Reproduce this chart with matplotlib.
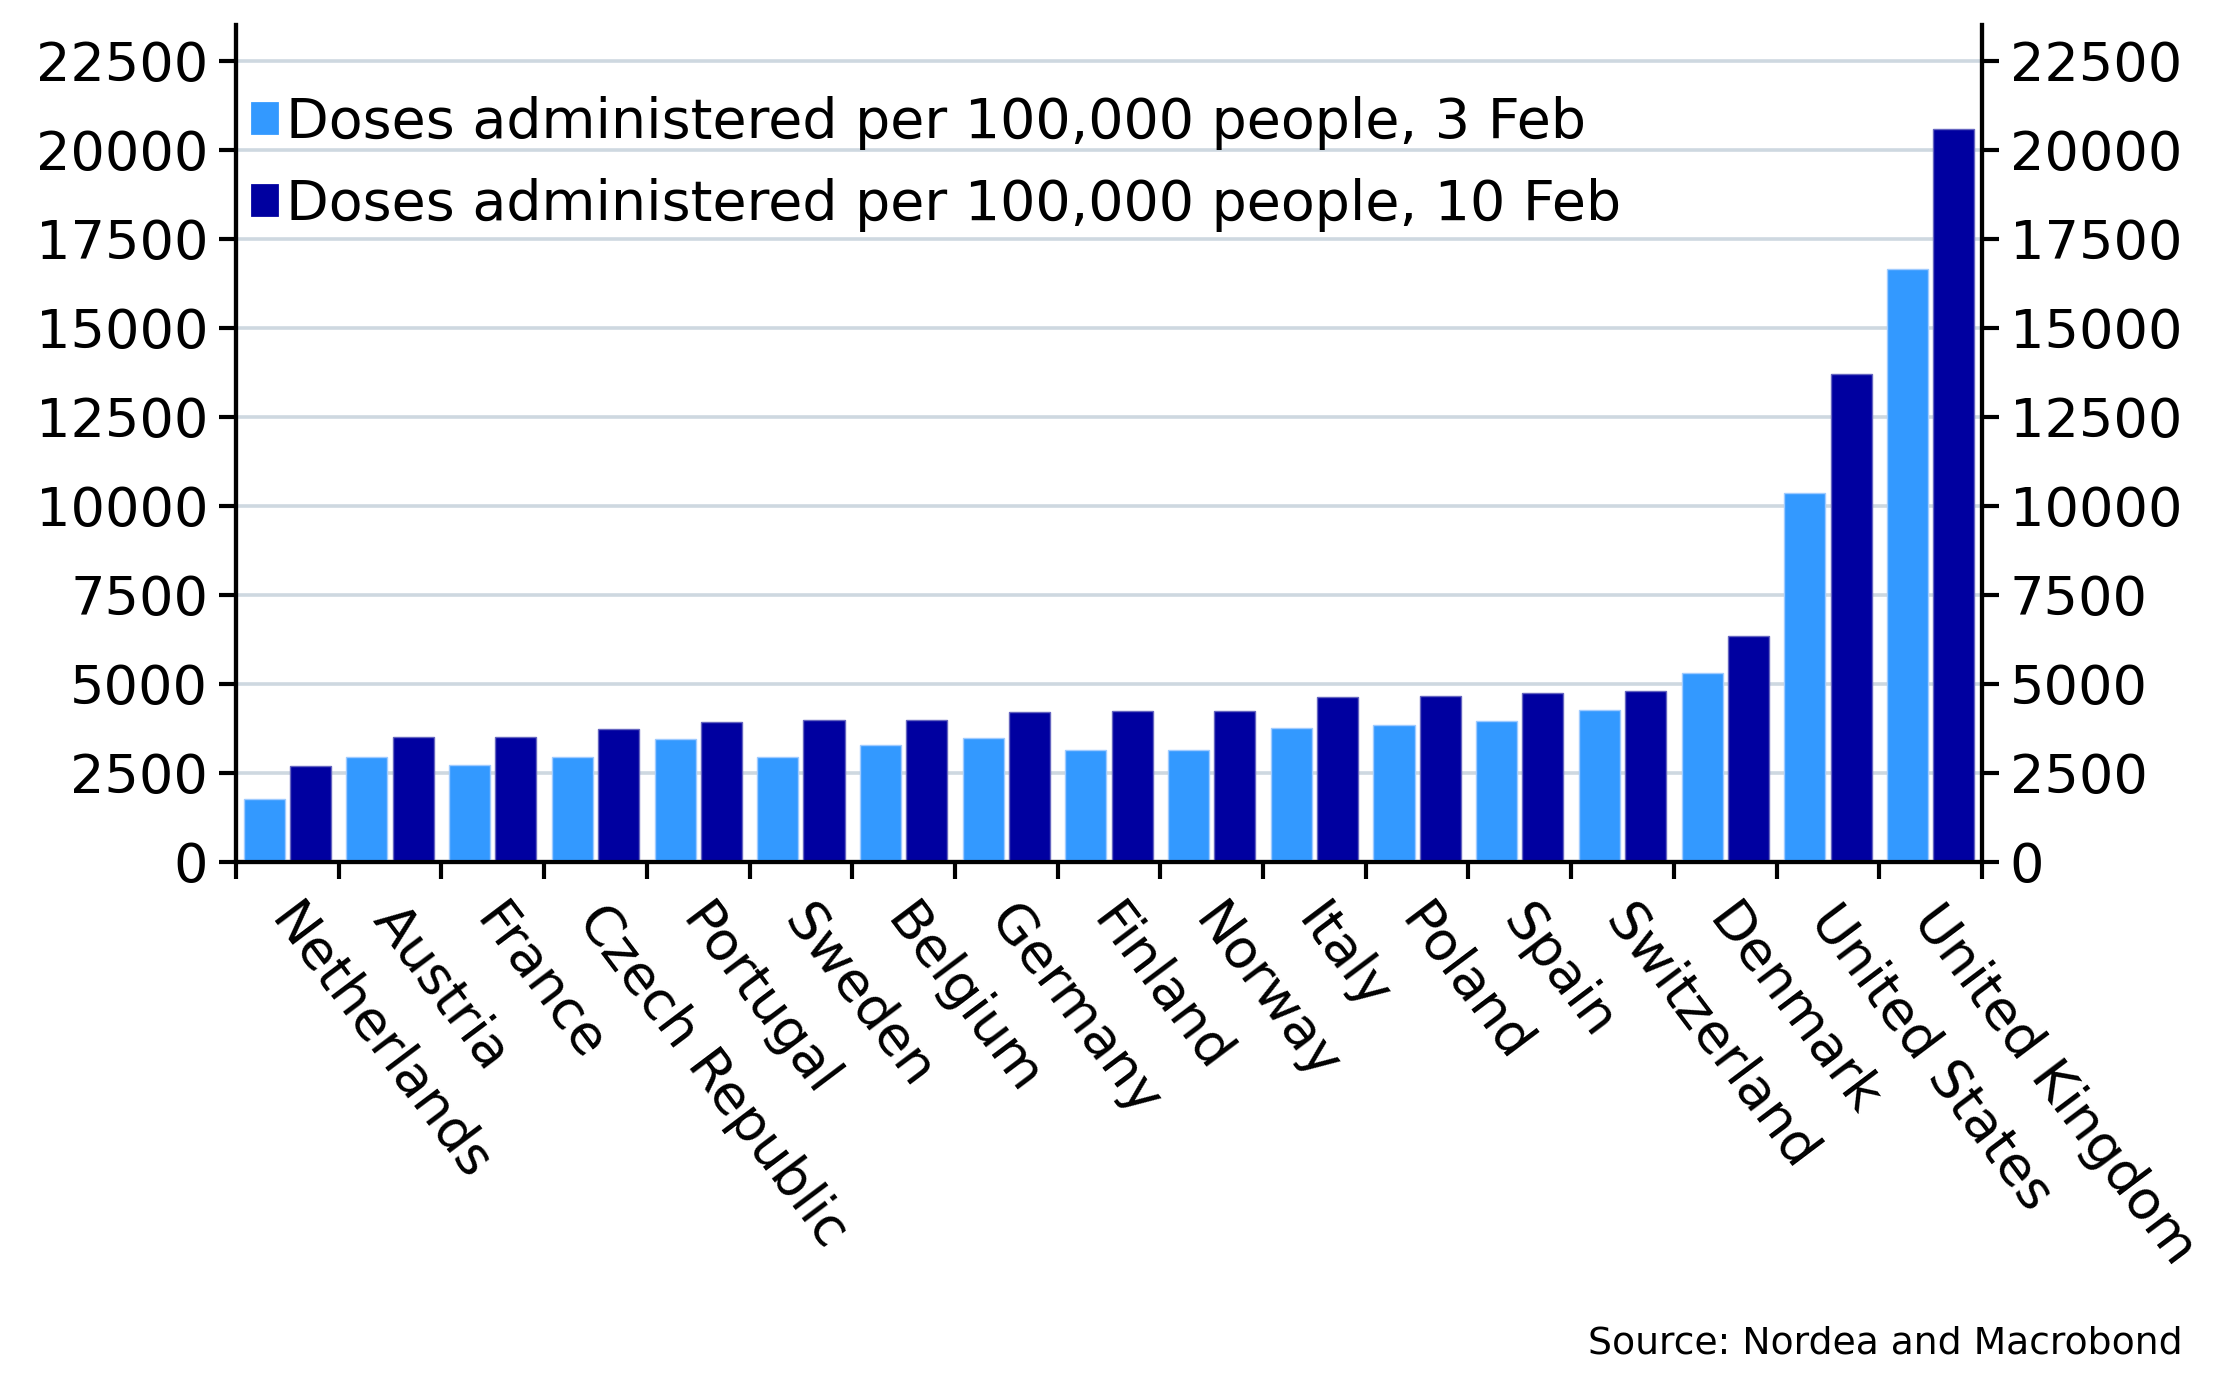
import numpy as np
import matplotlib
matplotlib.use("Agg")
import matplotlib.pyplot as plt
import matplotlib.transforms as mtransforms
from matplotlib.patches import Patch

countries = ["Netherlands", "Austria", "France", "Czech Republic", "Portugal", "Sweden",
             "Belgium", "Germany", "Finland", "Norway", "Italy", "Poland", "Spain",
             "Switzerland", "Denmark", "United States", "United Kingdom"]
feb3 = [1780, 2950, 2730, 2950, 3440, 2950, 3290, 3490, 3140, 3140, 3770, 3850, 3960,
        4280, 5320, 10360, 16660]
feb10 = [2700, 3500, 3520, 3740, 3920, 3990, 4000, 4220, 4250, 4250, 4620, 4670, 4750,
         4810, 6360, 13700, 20590]
labels = ["Doses administered per 100,000 people, 3 Feb",
          "Doses administered per 100,000 people, 10 Feb"]
yticks = np.arange(0, 22501, 2500)

light = "#3399FF"
dark = "#0000A0"
grid_col = "#CED8E0"

plt.rcParams['font.family'] = ['DejaVu Sans']

fig = plt.figure(figsize=(11.09, 7.0), dpi=200)
ax = fig.add_axes([0.1064, 0.3843, 0.7872, 0.5977])

x = np.arange(len(countries))
w = 0.4
ax.bar(x - 0.225, feb3, w, color=light, edgecolor="#9FCBFF", linewidth=0.5, zorder=3)
ax.bar(x + 0.225, feb10, w, color=dark, edgecolor="#6666C0", linewidth=0.5, zorder=3)

ax.set_xlim(-0.5, len(countries) - 0.5)
ax.set_ylim(0, 23500)
ax.set_yticks(yticks)
ax.yaxis.grid(True, color=grid_col, linewidth=1.3, zorder=0)
ax.set_axisbelow(True)

# right axis copy
ax2 = ax.twinx()
ax2.set_ylim(ax.get_ylim())
ax2.set_yticks(yticks)

for a in (ax, ax2):
    a.spines['top'].set_visible(False)
    for s in ('left', 'right', 'bottom'):
        a.spines[s].set_linewidth(1.5)
    a.tick_params(axis='y', labelsize=19.5, length=6, width=1.5, direction='out', pad=4)

# x ticks: marks between groups, labels at centres
ax.set_xticks(x)
ax.set_xticklabels(countries, rotation=-53, ha='left', va='top', rotation_mode='anchor',
                   fontsize=19.5)
ax.tick_params(axis='x', which='major', length=0, pad=12)
shift = mtransforms.ScaledTranslation(5 / 72, 0, fig.dpi_scale_trans)
for lab in ax.get_xticklabels():
    lab.set_transform(lab.get_transform() + shift)
ax.set_xticks(np.arange(len(countries) + 1) - 0.5, minor=True)
ax.tick_params(axis='x', which='minor', length=6, width=1.5, direction='out')

handles = [Patch(color=light), Patch(color=dark)]
ax.legend(handles, labels, loc='upper left', bbox_to_anchor=(-0.013, 0.962), frameon=False,
          fontsize=20, handlelength=0.45, handleheight=0.45, handletextpad=0.15,
          labelspacing=0.5, borderaxespad=0.3)

fig.text(0.984, 0.04, "Source: Nordea and Macrobond", ha='right', va='center', fontsize=13.6)

fig.savefig("out.png", dpi=200)
